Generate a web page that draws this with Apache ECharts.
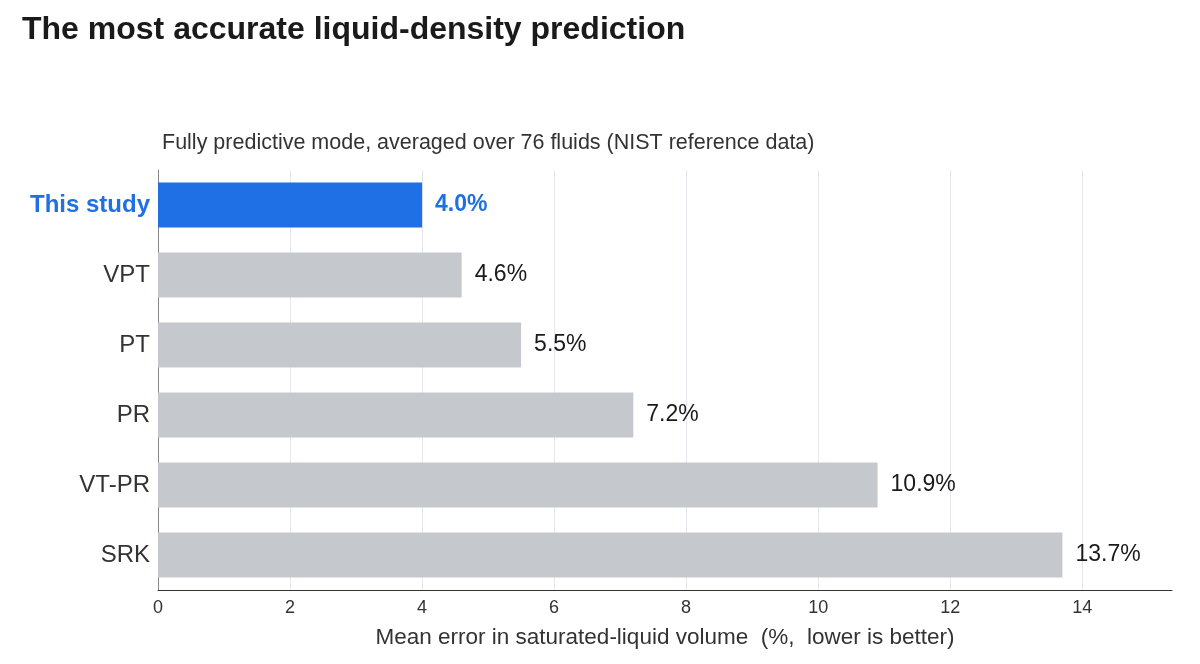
<!DOCTYPE html><html><head><meta charset="utf-8"><script src="https://cdn.jsdelivr.net/npm/echarts@6/dist/echarts.min.js"></script>
<style>html,body{margin:0;background:#fff}#c{width:1200px;height:664px}</style></head><body><div id="c"></div><script>
const categories=["This study","VPT","PT","PR","VT-PR","SRK"];
const values=[4.0,4.6,5.5,7.2,10.9,13.7];
const highlight="This study";
const c=echarts.init(document.getElementById('c'));
const F="Liberation Sans, Arial, sans-serif";
c.setOption({animation:false,
title:[{text:"The most accurate liquid-density prediction",left:17,top:9,textStyle:{fontFamily:F,fontSize:32,fontWeight:"bold",color:"#1a1a1a"}},
{text:"Fully predictive mode, averaged over 76 fluids (NIST reference data)",left:157,top:127,textStyle:{fontFamily:F,fontSize:21.5,fontWeight:"normal",color:"#333"}}],
grid:{left:158,right:28,top:170,bottom:74},
xAxis:{type:"value",min:0,max:15.36,interval:2,name:"Mean error in saturated-liquid volume  (%,  lower is better)",nameLocation:"middle",nameGap:36,
nameTextStyle:{fontFamily:F,fontSize:22.5,color:"#333"},axisLabel:{fontFamily:F,fontSize:18,color:"#333",margin:9,showMaxLabel:false},
axisLine:{show:true,lineStyle:{color:"#333"}},axisTick:{show:false},splitLine:{showMaxLine:false,lineStyle:{color:"#e3e7ec"}}},
yAxis:{type:"category",inverse:true,data:categories,axisLine:{show:true,lineStyle:{color:"#888"}},axisTick:{show:false},
axisLabel:{fontFamily:F,fontSize:24,color:"#333",margin:8,formatter:v=>v===highlight?"{h|"+v+"}":v,rich:{h:{fontFamily:F,fontSize:24,fontWeight:"bold",color:"#1f6fe5"}}}},
series:[{type:"bar",barWidth:45,data:values.map((v,i)=>({value:v,itemStyle:{color:categories[i]===highlight?"#1f6fe5":"#c5c9cd"},
label:{show:true,position:"right",distance:13,formatter:p=>p.value.toFixed(1)+"%",fontFamily:F,fontSize:23,
color:categories[i]===highlight?"#1f6fe5":"#1a1a1a",fontWeight:categories[i]===highlight?"bold":"normal"}}))}]});
</script></body></html>
